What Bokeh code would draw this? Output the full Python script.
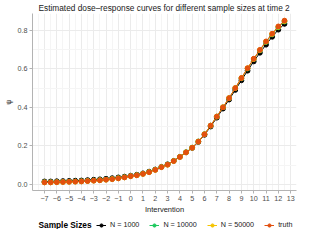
from bokeh.plotting import figure
from bokeh.layouts import column
from bokeh.models import Legend, LegendItem, FixedTicker, Range1d, ColumnDataSource, Label
from bokeh.embed import file_html
from bokeh.resources import INLINE

intervention = [-7.0, -6.5, -6.0, -5.5, -5.0, -4.5, -4.0, -3.5, -3.0, -2.5,
                -2.0, -1.5, -1.0, -0.5, 0.0, 0.5, 1.0, 1.5, 2.0, 2.5,
                3.0, 3.5, 4.0, 4.5, 5.0, 5.5, 6.0, 6.5, 7.0, 7.5,
                8.0, 8.5, 9.0, 9.5, 10.0, 10.5, 11.0, 11.5, 12.0, 12.5]

truth = [0.010, 0.010, 0.011, 0.012, 0.013, 0.014, 0.015, 0.017, 0.019, 0.021,
         0.024, 0.027, 0.031, 0.036, 0.042, 0.047, 0.054, 0.063, 0.075, 0.089,
         0.102, 0.121, 0.142, 0.166, 0.190, 0.222, 0.260, 0.305, 0.352, 0.400,
         0.448, 0.500, 0.552, 0.603, 0.652, 0.698, 0.742, 0.782, 0.820, 0.850]

n1000 = [0.015, 0.015, 0.016, 0.017, 0.018, 0.019, 0.020, 0.022, 0.024, 0.026,
         0.029, 0.032, 0.036, 0.040, 0.045, 0.050, 0.057, 0.066, 0.077, 0.091,
         0.104, 0.122, 0.143, 0.166, 0.189, 0.220, 0.257, 0.300, 0.346, 0.393,
         0.440, 0.490, 0.540, 0.590, 0.638, 0.683, 0.725, 0.766, 0.803, 0.833]

n10000 = [0.011, 0.011, 0.012, 0.013, 0.014, 0.015, 0.016, 0.018, 0.020, 0.022,
          0.025, 0.028, 0.032, 0.037, 0.043, 0.048, 0.055, 0.064, 0.076, 0.090,
          0.103, 0.122, 0.143, 0.167, 0.191, 0.223, 0.261, 0.305, 0.352, 0.400,
          0.447, 0.499, 0.550, 0.601, 0.650, 0.695, 0.739, 0.778, 0.815, 0.845]

n50000 = [0.010, 0.010, 0.011, 0.012, 0.013, 0.014, 0.015, 0.017, 0.019, 0.021,
          0.024, 0.027, 0.031, 0.036, 0.042, 0.047, 0.054, 0.063, 0.075, 0.089,
          0.102, 0.121, 0.142, 0.166, 0.190, 0.222, 0.260, 0.305, 0.352, 0.400,
          0.448, 0.500, 0.552, 0.603, 0.651, 0.697, 0.741, 0.781, 0.818, 0.848]

series_names = ["N = 1000", "N = 10000", "N = 50000", "truth"]
series_values = [n1000, n10000, n50000, truth]
series_colors = ["#000000", "#1DC95E", "#F5C400", "#E2500F"]

x_ticks = [-7, -6, -5, -4, -3, -2, -1, 0, 1, 2, 3, 4, 5, 6, 7, 8, 9, 10, 11, 12, 13]
y_ticks = [0.0, 0.2, 0.4, 0.6, 0.8]

FONT = "Liberation Sans"
PT_SIZE = 4.8

p = figure(width=299, height=216, output_backend="svg", toolbar_location=None,
           x_range=Range1d(-7.975, 13.475), y_range=Range1d(-0.032, 0.887),
           min_border_left=0, min_border_right=3, min_border_top=0, min_border_bottom=0)

p.title.text = "Estimated dose\u2013response curves for different sample sizes at time 2"
p.title.text_font = FONT
p.title.text_font_size = "8.3px"
p.title.text_font_style = "normal"
p.title.text_color = "#1a1a1a"
p.title.offset = 6
p.title.standoff = 1

p.outline_line_color = None
p.background_fill_color = "white"

sources = []
for name, vals, col in zip(series_names, series_values, series_colors):
    src = ColumnDataSource(dict(x=intervention, y=vals))
    sources.append(src)
    p.line("x", "y", source=src, line_color=col, line_width=1.0)
    p.scatter("x", "y", source=src, size=PT_SIZE, fill_color=col, line_color=col)

# axes
for ax in (p.xaxis[0], p.yaxis[0]):
    ax.axis_line_color = "#b3b3b3"
    ax.axis_line_width = 1
    ax.major_tick_line_color = "#b3b3b3"
    ax.major_tick_out = 3
    ax.major_tick_in = 0
    ax.minor_tick_line_color = None
    ax.major_label_text_font = FONT
    ax.major_label_text_font_size = "7.2px"
    ax.major_label_text_color = "#4d4d4d"
    ax.axis_label_text_font = FONT
    ax.axis_label_text_font_size = "7.5px"
    ax.axis_label_text_font_style = "normal"
    ax.axis_label_text_color = "#1a1a1a"

p.xaxis.ticker = FixedTicker(ticks=x_ticks, minor_ticks=[t + 0.5 for t in x_ticks[:-1]] + [-7.5])
p.xaxis.major_label_overrides = {t: (("\u2212" + str(abs(t))) if t < 0 else str(t)) for t in x_ticks}
p.xaxis.axis_label = "Intervention"
p.xaxis.major_label_standoff = 1
p.xaxis.axis_label_standoff = 1

p.yaxis.ticker = FixedTicker(ticks=y_ticks, minor_ticks=[0.1, 0.3, 0.5, 0.7])
p.yaxis.major_label_overrides = {t: "%.1f" % t for t in y_ticks}
p.yaxis.axis_label = "\u03c8"
p.yaxis.major_label_standoff = 1
p.yaxis.axis_label_standoff = 2

p.xgrid.grid_line_color = "#ebebeb"
p.ygrid.grid_line_color = "#ebebeb"
p.xgrid.minor_grid_line_color = "#f5f5f5"
p.ygrid.minor_grid_line_color = "#f5f5f5"

# legend strip below (its frame is aligned with the main plot's frame)
lg = figure(width=299, height=13, output_backend="svg", toolbar_location=None,
            x_range=Range1d(100, 101), y_range=Range1d(100, 101),
            x_axis_type=None, y_axis_type=None, min_border=0)
lg.outline_line_color = None
lg.xgrid.visible = False
lg.ygrid.visible = False

items = []
for name, src, col in zip(series_names, sources, series_colors):
    r_line = lg.line("x", "y", source=src, line_color=col, line_width=1.0)
    r_pt = lg.scatter("x", "y", source=src, size=PT_SIZE, fill_color=col, line_color=col)
    items.append(LegendItem(label=name, renderers=[r_line, r_pt]))

legend = Legend(items=items, orientation="horizontal", location=(64, 0))
legend.label_text_font = FONT
legend.label_text_font_size = "7.2px"
legend.label_text_color = "#1a1a1a"
legend.glyph_width = 10
legend.glyph_height = 8
legend.label_standoff = 4
legend.spacing = 10
legend.padding = 1
legend.margin = 0
legend.border_line_color = None
legend.background_fill_alpha = 0
lg.add_layout(legend, "center")

legend_title = Label(x=6, y=5, x_units="screen", y_units="screen", text="Sample Sizes",
                     text_font=FONT, text_font_size="8.3px", text_font_style="bold",
                     text_color="#000000", text_baseline="middle")
lg.add_layout(legend_title, "center")

layout = column(p, lg, spacing=0)
open("out.html", "w").write(file_html(layout, INLINE))
